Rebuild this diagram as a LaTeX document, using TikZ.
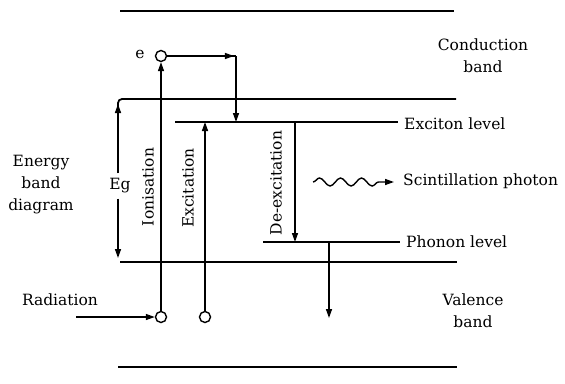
\documentclass[tikz,border=0pt]{standalone}
\usepackage{fontspec}
\setmainfont{DejaVu Serif}
\usetikzlibrary{arrows.meta,decorations.pathmorphing,decorations.markings}
\begin{document}
\begin{tikzpicture}[x=1pt,y=-1pt,
  lbl/.style={font=\fontsize{15.5}{22}\selectfont, inner sep=0pt, align=center},
  band/.style={line width=1.8pt},
  trans/.style={line width=1.4pt},
  tip/.style={-{Triangle[length=9pt,width=6pt]}},
  carrier/.style={circle, draw, line width=1.4pt, minimum size=11pt, inner sep=0pt, fill=white}
]
\useasboundingbox (0,0) rectangle (565,383);
% band edges
\coordinate (cbTL) at (120,11);  \coordinate (cbTR) at (454,11);
\coordinate (cbBL) at (118,99);  \coordinate (cbBR) at (456,99);
\coordinate (vbTL) at (120,262); \coordinate (vbTR) at (457,262);
\coordinate (vbBL) at (118,367); \coordinate (vbBR) at (457,367);
\coordinate (exL) at (175,122);  \coordinate (exR) at (398,122);
\coordinate (phL) at (263,242);  \coordinate (phR) at (400,242);
\draw[band] (cbTL) -- (cbTR);
\draw[band, rounded corners=4pt] (cbBR) -- (cbBL) -- (118,112);
\draw[band] (vbTL) -- (vbTR);
\draw[band] (vbBL) -- (vbBR);
\draw[band] (exL) -- (exR);
\draw[band] (phL) -- (phR);
% carriers
\node[carrier] (etop) at (161,56) {};
\node[carrier] (ion) at (161,317) {};
\node[carrier] (exc) at (205,317) {};
\node[lbl] (e) at (140,54) {e};
% ionisation
\draw[trans,tip] (ion) -- (etop);
\node[lbl, rotate=90] (ionl) at (148,187) {Ionisation};
% excitation
\draw[trans,tip] (exc) -- (exc |- exL);
\node[lbl, rotate=90] (excl) at (188,188) {Excitation};
% electron thermalisation to exciton
\coordinate (corner) at (236,56);
\draw[trans, decoration={markings, mark=at position 0.97 with {\arrow{Triangle[length=9pt,width=6pt]}}}, postaction=decorate] (etop) -- (corner);
\draw[trans,tip] (corner) -- (corner |- exL);
% de-excitation
\coordinate (dxT) at (295,122); \coordinate (dxB) at (295,242);
\draw[trans,tip] (dxT) -- (dxB);
\node[lbl, rotate=90] (dxl) at (276,183) {De-excitation};
% phonon to valence
\coordinate (pT) at (329,242); \coordinate (pB) at (329,318);
\draw[trans,tip] (pT) -- (pB);
% radiation
\node[lbl] (rad) at (60,300) {Radiation};
\coordinate (radS) at (76,317);
\draw[trans,tip] (radS) -- (ion);
% Eg
\node[lbl] (eg) at (120,186) {Eg};
\coordinate (egT) at (118,104); \coordinate (egB) at (118,258);
\draw[trans,tip] ([yshift=5pt]egT |- eg.north) -- (egT);
\draw[trans,tip] ([yshift=-5pt]egT |- eg.south) -- (egB);
% photon
\coordinate (wS) at (313,182); \coordinate (wE) at (394,182);
\draw[trans, tip, decorate, decoration={snake, amplitude=4pt, segment length=21pt, post length=10pt}] (wS) -- (wE);
% labels
\node[lbl, anchor=west] (exlbl) at (404,124) {Exciton level};
\node[lbl, anchor=west] (sclbl) at (403,181) {Scintillation photon};
\node[lbl, anchor=west] (phlbl) at (406,242) {Phonon level};
\node[lbl] (cb) at (483,56) {Conduction\\band};
\node[lbl] (vb) at (473,311) {Valence\\band};
\node[lbl] (ebd) at (41,185) {Energy\\band\\diagram};
\end{tikzpicture}
\end{document}
